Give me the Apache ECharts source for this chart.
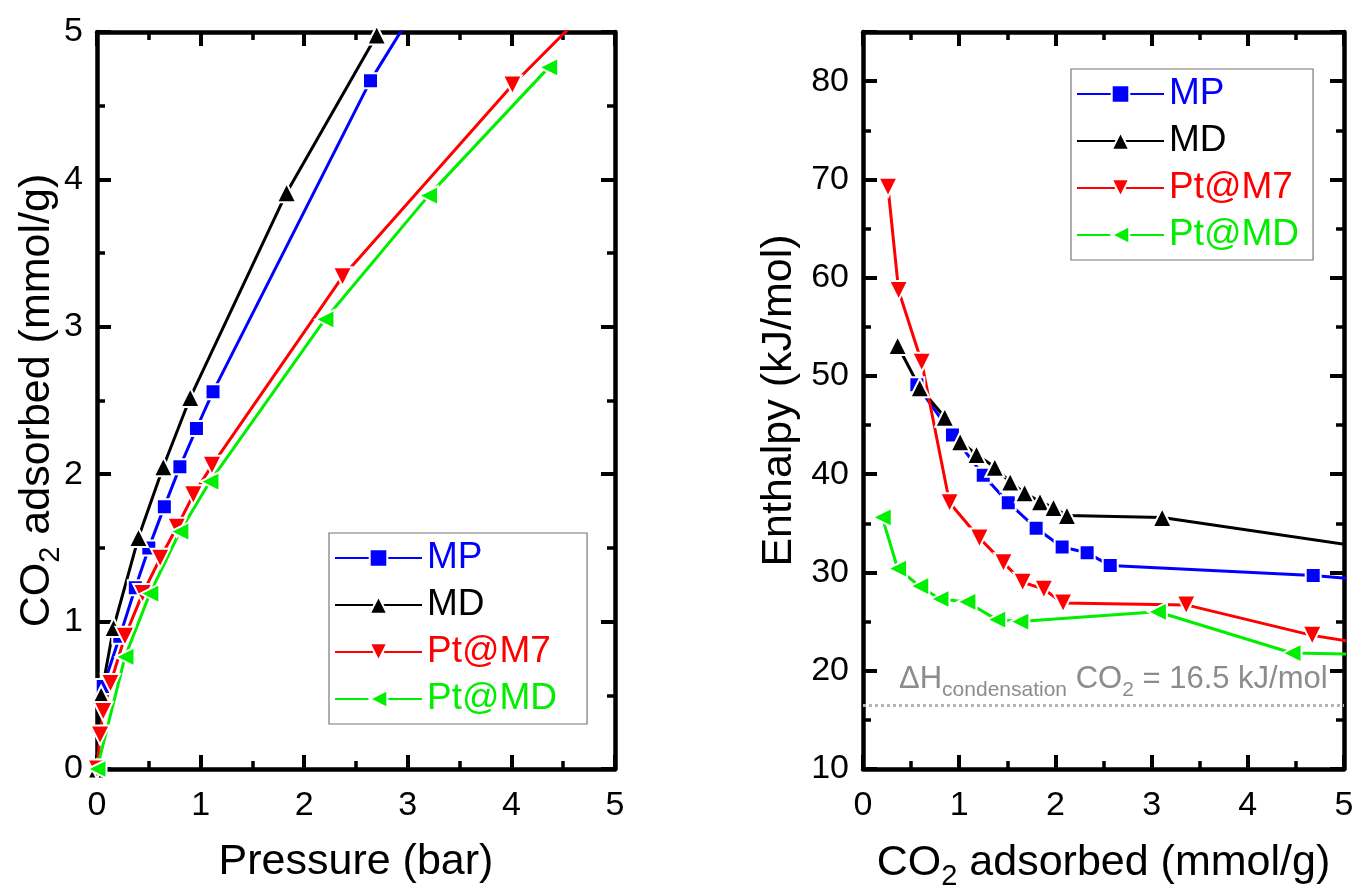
<!DOCTYPE html>
<html>
<head>
<meta charset="utf-8">
<script src="https://cdn.jsdelivr.net/npm/echarts@6/dist/echarts.min.js"></script>
<style>
html,body{margin:0;padding:0;background:#fff;}
#chart{width:1356px;height:891px;}
</style>
</head>
<body>
<div id="chart"></div>
<script>
// ---- Left panel: isotherms (Pressure bar vs CO2 adsorbed mmol/g) ----
const seriesNames = ['MP', 'MD', 'Pt@M7', 'Pt@MD'];
const mpPressure   = [0, 0.06, 0.22, 0.37, 0.50, 0.65, 0.80, 0.96, 1.12, 2.64, 3.50];
const mpUptake     = [0, 0.56, 0.90, 1.23, 1.50, 1.78, 2.05, 2.31, 2.56, 4.67, 5.65];
const mdPressure   = [0, 0.04, 0.16, 0.40, 0.64, 0.90, 1.83, 2.70];
const mdUptake     = [0, 0.50, 0.96, 1.57, 2.05, 2.52, 3.91, 4.98];
const m7Pressure   = [0, 0.03, 0.06, 0.13, 0.27, 0.44, 0.61, 0.77, 0.93, 1.11, 2.37, 4.01, 5.20];
const m7Uptake     = [0, 0.23, 0.39, 0.58, 0.90, 1.19, 1.43, 1.64, 1.86, 2.06, 3.34, 4.64, 5.48];
const ptmdPressure = [0, 0.27, 0.51, 0.80, 1.09, 2.20, 3.20, 4.36];
const ptmdUptake   = [0, 0.76, 1.19, 1.61, 1.95, 3.05, 3.89, 4.76];

// ---- Right panel: enthalpy vs CO2 adsorbed ----
const mpLoading   = [0.56, 0.93, 1.25, 1.51, 1.80, 2.07, 2.33, 2.57, 4.68, 5.50];
const mpEnthalpy  = [49.1, 44.0, 39.9, 37.1, 34.5, 32.6, 32.0, 30.7, 29.7, 29.0];
const mdLoading   = [0.36, 0.59, 0.85, 1.01, 1.18, 1.37, 1.53, 1.68, 1.84, 1.98, 2.12, 3.11, 5.60];
const mdEnthalpy  = [53.1, 48.8, 45.8, 43.3, 42.0, 40.7, 39.2, 38.1, 37.2, 36.6, 35.8, 35.6, 32.0];
const m7Loading   = [0.26, 0.37, 0.61, 0.90, 1.21, 1.46, 1.66, 1.88, 2.08, 3.36, 4.67, 5.50];
const m7Enthalpy  = [69.2, 58.7, 51.4, 37.1, 33.5, 31.0, 29.0, 28.3, 26.9, 26.7, 23.6, 22.3];
const ptmdLoading = [0.20, 0.36, 0.59, 0.80, 1.08, 1.39, 1.63, 3.06, 4.46, 5.50];
const ptmdEnthalpy= [35.6, 30.4, 28.6, 27.3, 27.0, 25.2, 25.0, 26.0, 21.8, 21.6];
const condensationEnthalpy = 16.5;

// axis ranges / tick labels
const leftX  = {min: 0, max: 5, interval: 1};
const leftY  = {min: 0, max: 5, interval: 1};
const rightX = {min: 0, max: 5, interval: 1};
const rightY = {min: 10, max: 85, interval: 10};

const colors = {'MP': '#0000ff', 'MD': '#000000', 'Pt@M7': '#ff0000', 'Pt@MD': '#00ee00'};
const symbols = {
  'MP': {symbol: 'rect', symbolSize: 15, symbolRotate: 0},
  'MD': {symbol: 'triangle', symbolSize: 19, symbolRotate: 0},
  'Pt@M7': {symbol: 'triangle', symbolSize: 19, symbolRotate: 180},
  'Pt@MD': {symbol: 'triangle', symbolSize: 19, symbolRotate: 90}
};
const FONT = "'Liberation Sans', Arial, sans-serif";

function zip(xs, ys) { return xs.map((v, i) => [v, ys[i]]); }

function axisBase(range, show, pos, margin) {
  return Object.assign({
    type: 'value', position: pos, nameMoveOverlap: false,
    axisLine: {show: true, onZero: false, lineStyle: {color: '#000', width: 4.5}},
    axisTick: {show: true, inside: true, length: 14, lineStyle: {color: '#000', width: 4}},
    minorTick: {show: true, inside: true, splitNumber: 2, length: 8, lineStyle: {color: '#000', width: 3.5}},
    splitLine: {show: false},
    axisLabel: {show: show, color: '#000', fontSize: 34, fontFamily: FONT, margin: margin || 12, showMaxLabel: pos === 'left' && range.max === 85 ? false : true},
  }, range);
}

const subRich = {
  a: {fontSize: 43, fontFamily: FONT, color: '#000', verticalAlign: 'bottom', padding: [0, 0, 6, 0]},
  s: {fontSize: 29, fontFamily: FONT, color: '#000', verticalAlign: 'bottom'}
};

const xAxes = [
  Object.assign(axisBase(leftX, true, 'bottom', 20), {gridIndex: 0, name: 'Pressure (bar)', nameLocation: 'middle', nameGap: 72,
    nameTextStyle: {fontSize: 43, fontFamily: FONT, color: '#000'}}),
  Object.assign(axisBase(leftX, false, 'top'), {gridIndex: 0}),
  Object.assign(axisBase(rightX, true, 'bottom', 20), {gridIndex: 1, name: '{a|CO}{s|2}{a| adsorbed (mmol/g)}', nameLocation: 'middle', nameGap: 73,
    nameTextStyle: {rich: subRich}}),
  Object.assign(axisBase(rightX, false, 'top'), {gridIndex: 1})
];
const yAxes = [
  Object.assign(axisBase(leftY, true, 'left', 14), {gridIndex: 0, name: '{a|CO}{s|2}{a| adsorbed (mmol/g)}', nameLocation: 'middle', nameGap: 32,
    nameTextStyle: {rich: subRich}}),
  Object.assign(axisBase(leftY, false, 'right'), {gridIndex: 0}),
  Object.assign(axisBase(rightY, true, 'left', 14), {gridIndex: 1, name: 'Enthalpy (kJ/mol)', nameLocation: 'middle', nameGap: 62,
    nameTextStyle: {fontSize: 43, fontFamily: FONT, color: '#000'}}),
  Object.assign(axisBase(rightY, false, 'right'), {gridIndex: 1})
];

function mkSeries(name, xs, ys, axisIdx, extra) {
  return Object.assign({
    name: name, type: 'line', data: zip(xs, ys),
    xAxisIndex: axisIdx, yAxisIndex: axisIdx,
    symbol: symbols[name].symbol, symbolSize: symbols[name].symbolSize, symbolRotate: symbols[name].symbolRotate,
    showAllSymbol: true, clip: true,
    lineStyle: {color: colors[name], width: 3},
    itemStyle: {color: colors[name], borderColor: '#fff', borderWidth: 2},
    emphasis: {disabled: true}
  }, extra || {});
}

const legendBase = {
  orient: 'vertical', itemWidth: 87, itemHeight: 22, itemGap: 7,
  padding: [5, 14, 5, 5],
  borderColor: '#777', borderWidth: 1.2, backgroundColor: '#fff',
  textStyle: {fontSize: 37, fontFamily: FONT, lineHeight: 40},
  data: seriesNames.map(n => ({name: n, textStyle: {color: colors[n]}}))
};

const option = {
  animation: false,
  backgroundColor: '#fff',
  grid: [
    {left: 97, top: 32, width: 518, height: 737, containLabel: false, outerBoundsMode: 'none'},
    {left: 863, top: 32, width: 481, height: 737, containLabel: false, outerBoundsMode: 'none'}
  ],
  xAxis: xAxes,
  yAxis: yAxes,
  legend: [
    Object.assign({}, legendBase, {left: 329, top: 533, padding: [5, 30, 5, 5]}),
    Object.assign({}, legendBase, {left: 1071, top: 69})
  ],
  series: [
    mkSeries('MP', mpPressure, mpUptake, 0),
    mkSeries('MD', mdPressure, mdUptake, 0),
    mkSeries('Pt@M7', m7Pressure, m7Uptake, 0),
    mkSeries('Pt@MD', ptmdPressure, ptmdUptake, 0),
    mkSeries('MP', mpLoading, mpEnthalpy, 2),
    mkSeries('MD', mdLoading, mdEnthalpy, 2),
    mkSeries('Pt@M7', m7Loading, m7Enthalpy, 2),
    mkSeries('Pt@MD', ptmdLoading, ptmdEnthalpy, 2, {
      markLine: {
        silent: true, symbol: 'none', animation: false,
        lineStyle: {color: '#b4b4b4', type: 'dotted', width: 3},
        label: {
          show: true, position: 'insideStartTop', distance: 4, padding: [0, 0, 0, 32],
          formatter: '{a|\u0394H}{s|condensation}{a| CO}{s|2}{a| = 16.5 kJ/mol}',
          rich: {
            a: {fontSize: 31, fontFamily: FONT, color: '#8c8c8c', verticalAlign: 'bottom', padding: [0, 0, 6, 0]},
            s: {fontSize: 21, fontFamily: FONT, color: '#8c8c8c', verticalAlign: 'bottom'}
          }
        },
        data: [{yAxis: condensationEnthalpy}]
      }
    })
  ]
};

const chart = echarts.init(document.getElementById('chart'), null, {renderer: 'canvas'});
chart.setOption(option);
</script>
</body>
</html>
